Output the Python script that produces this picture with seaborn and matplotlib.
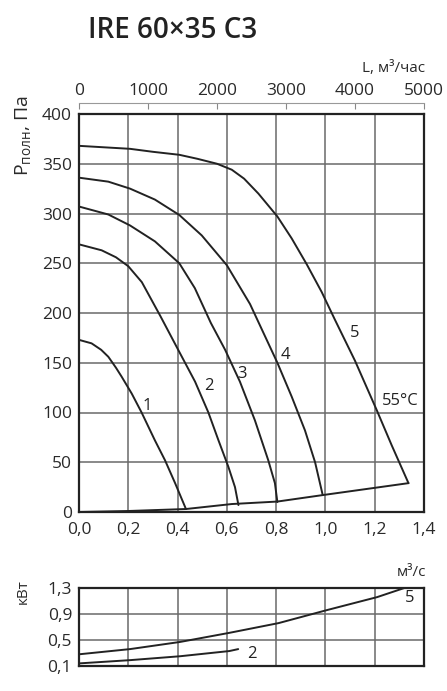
import numpy as np
import pandas as pd
import seaborn as sns
from matplotlib import pyplot as plt
from matplotlib.ticker import FuncFormatter

sns.set_theme(style='white')
plt.rcParams['font.family'] = ['Open Sans', 'DejaVu Sans']

# кривые давления (Q, м3/с ; P, Па)
q1 = [0.0, 0.051, 0.09, 0.119, 0.15, 0.173, 0.214, 0.254, 0.308, 0.349, 0.39, 0.434]
p1 = [173, 169.5, 163, 156, 145, 136, 119, 100, 72, 52, 29, 3]
q2 = [0.0, 0.092, 0.15, 0.2, 0.255, 0.33, 0.41, 0.471, 0.525, 0.566, 0.606, 0.633, 0.647]
p2 = [269, 263, 256, 247, 231, 197, 159.5, 131, 100, 72, 45.5, 25, 7]
q3 = [0.0, 0.119, 0.207, 0.308, 0.407, 0.47, 0.535, 0.593, 0.653, 0.714, 0.768, 0.795, 0.805]
p3 = [307, 299, 288, 272, 250, 225, 190, 163, 131, 92, 52, 29, 10]
q4 = [0.0, 0.119, 0.207, 0.308, 0.407, 0.498, 0.6, 0.694, 0.805, 0.863, 0.917, 0.958, 0.989]
p4 = [336, 332, 325, 314, 298.5, 278, 248, 209, 150, 116, 82, 50, 17]
q5 = [0.0, 0.207, 0.3, 0.407, 0.48, 0.56, 0.62, 0.67, 0.728, 0.805, 0.863, 0.924,
      0.985, 1.039, 1.12, 1.208, 1.269, 1.337]
p5 = [368, 365, 362, 359, 355, 350, 344, 335, 320, 297, 275, 249, 221, 193, 152, 102.5, 67, 29]
# характеристика сети
q_sys = [0.0, 0.2, 0.434, 0.62, 0.805, 0.989, 1.337]
p_sys = [0, 1, 3, 8, 10.5, 17, 29]
# мощность, кВт
qn5 = [0.0, 0.207, 0.41, 0.61, 0.81, 1.006, 1.21, 1.336]
n5 = [0.28, 0.36, 0.47, 0.61, 0.76, 0.96, 1.16, 1.32]
qn2 = [0.0, 0.207, 0.41, 0.61, 0.646]
n2 = [0.14, 0.19, 0.25, 0.33, 0.36]

x_ticks = [0, 0.2, 0.4, 0.6, 0.8, 1.0, 1.2, 1.4]
p_ticks = [0, 50, 100, 150, 200, 250, 300, 350, 400]
n_ticks = [0.1, 0.5, 0.9, 1.3]
l_ticks = [0, 1000, 2000, 3000, 4000, 5000]

W, H = 447, 691
fig = plt.figure(figsize=(W / 100, H / 100), dpi=100)
ax = fig.add_axes([79 / W, 1 - 512 / H, 345 / W, 398 / H])
ax2 = fig.add_axes([79 / W, 1 - 666 / H, 345 / W, 78 / H])

grid_kw = dict(color='#6a6a6a', lw=1.1)
line_kw = dict(color='#222222', lw=1.4, sort=False, estimator=None, legend=False)

curves = pd.concat([
    pd.DataFrame({'Q': q, 'P': p, 'n': i}) for i, (q, p) in
    enumerate([(q1, p1), (q2, p2), (q3, p3), (q4, p4), (q5, p5), (q_sys, p_sys)])
])
for i, d in curves.groupby('n'):
    sns.lineplot(data=d, x='Q', y='P', ax=ax, **line_kw)

power = pd.concat([pd.DataFrame({'Q': qn5, 'N': n5, 'n': 5}),
                   pd.DataFrame({'Q': qn2, 'N': n2, 'n': 2})])
for i, d in power.groupby('n'):
    sns.lineplot(data=d, x='Q', y='N', ax=ax2, **line_kw)

comma = FuncFormatter(lambda v, pos: f'{v:.1f}'.replace('.', ','))

for a in (ax, ax2):
    a.set_xlim(0, 1.4)
    a.set_xticks(x_ticks)
    a.grid(True, **grid_kw)
    a.set_axisbelow(True)
    a.set_xlabel('')
    a.set_ylabel('')
    for s in a.spines.values():
        s.set_visible(True)
        s.set_color('#222222')
        s.set_linewidth(1.6)
    a.tick_params(length=0, labelsize=12.5, colors='#2a2a2a', pad=5)

ax.set_ylim(0, 400)
ax.set_yticks(p_ticks)
ax.xaxis.set_major_formatter(comma)
ax.tick_params(axis='x', pad=7)

ax2.set_ylim(0.1, 1.3)
ax2.set_yticks(n_ticks)
ax2.yaxis.set_major_formatter(comma)
ax2.set_xticklabels([])

# верхняя шкала, м3/час
top = ax.secondary_xaxis(1.027, functions=(lambda q: q * 5000 / 1.4, lambda l: l * 1.4 / 5000))
top.set_xticks(l_ticks)
top.spines['top'].set_color('#999999')
top.spines['top'].set_linewidth(0.8)
top.tick_params(direction='in', length=4, width=0.8, color='#888888', labelsize=12.5, colors='#2a2a2a', pad=3)

# подписи кривых
lab = dict(fontsize=12, ha='center', va='center', color='#222222')
ax.text(0.275, 106.5, '1', **lab)
ax.text(0.529, 126.5, '2', **lab)
ax.text(0.66, 139, '3', **lab)
ax.text(0.836, 158, '4', **lab)
ax.text(1.12, 180, '5', **lab)
ax.text(1.303, 111.5, '55°C', **lab)
ax2.text(1.34, 1.15, '5', **lab)
ax2.text(0.70, 0.28, '2', **lab)

fig.text(173 / W, 1 - 30 / H, 'IRE 60×35 C3', fontsize=20, fontweight='semibold',
         ha='center', va='center', color='#222222')
fig.text(425 / W, 1 - 68 / H, 'L, м³/час', fontsize=11, ha='right', va='center', color='#2a2a2a')
fig.text(426 / W, 1 - 572 / H, 'м³/с', fontsize=11, ha='right', va='center', color='#2a2a2a')
fig.text(23 / W, 1 - 135 / H, r'$\mathregular{Р_{полн}}$, Па', fontsize=14, rotation=90,
         ha='center', va='center', color='#2a2a2a')
fig.text(23 / W, 1 - 592 / H, 'кВт', fontsize=11, rotation=90, ha='center', va='center', color='#2a2a2a')

fig.savefig('out.png', dpi=100, facecolor='white')
